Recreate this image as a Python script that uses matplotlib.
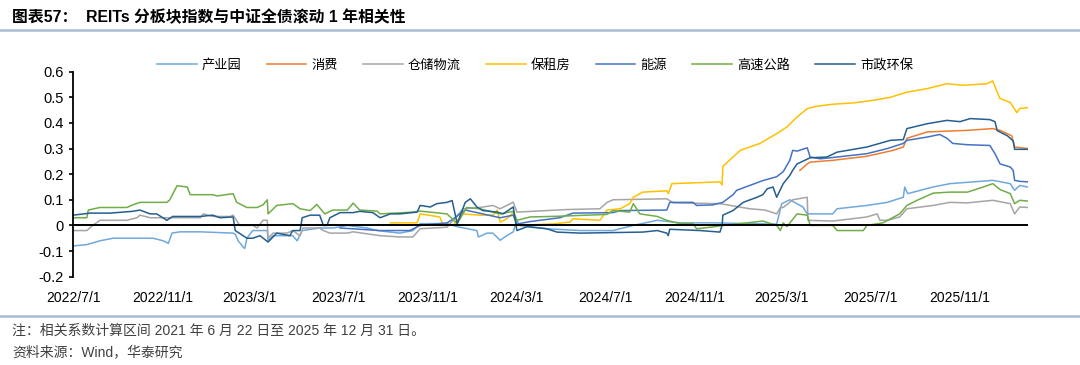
import pandas as pd
import matplotlib.pyplot as plt
from matplotlib.lines import Line2D

plt.rcParams['font.family'] = ['Liberation Sans', 'Noto Sans CJK SC']

# --- data ---
cyy_dates = ["2022-07-01", "2022-07-20", "2022-08-07", "2022-08-25", "2022-10-19", "2022-11-02", "2022-11-09",
             "2022-11-14", "2022-11-25", "2022-12-23", "2023-02-06", "2023-02-09", "2023-02-13", "2023-02-20",
             "2023-02-22", "2023-02-25", "2023-03-05", "2023-03-25", "2023-03-26", "2023-04-02", "2023-04-29",
             "2023-05-05", "2023-05-12", "2023-06-05", "2023-06-23", "2023-07-13", "2023-08-09", "2023-08-23",
             "2023-09-23", "2023-10-11", "2023-10-21", "2023-11-27", "2023-12-11", "2024-01-07", "2024-01-09",
             "2024-01-21", "2024-01-29", "2024-02-08", "2024-02-17", "2024-02-26", "2024-03-02", "2024-03-06",
             "2024-04-12", "2024-05-28", "2024-07-12", "2024-08-09", "2024-09-11", "2024-10-12", "2024-11-26",
             "2025-02-22", "2025-03-01", "2025-03-12", "2025-03-30", "2025-04-05", "2025-05-10", "2025-05-16",
             "2025-06-26", "2025-07-24", "2025-08-15", "2025-08-17", "2025-08-21", "2025-09-25", "2025-10-18",
             "2025-12-03", "2025-12-16", "2026-01-09", "2026-01-15", "2026-01-22", "2026-02-02"]
cyy_vals = [-0.08, -0.075, -0.06, -0.05, -0.05, -0.06, -0.07,
            -0.03, -0.025, -0.025, -0.03, -0.035, -0.06, -0.085,
            -0.09, -0.05, -0.02, -0.02, -0.06, -0.04, -0.04,
            -0.06, -0.02, -0.01, -0.01, 0.0, -0.01, -0.02,
            -0.03, -0.02, 0.007, 0.007, -0.005, -0.02, -0.045,
            -0.03, -0.03, -0.058, -0.04, -0.025, 0.02, 0.0,
            -0.013, -0.02, -0.02, 0.0, 0.02, 0.01, 0.01,
            0.005, 0.085, 0.1, 0.072, 0.045, 0.045, 0.065,
            0.078, 0.09, 0.11, 0.15, 0.124, 0.15, 0.163,
            0.173, 0.176, 0.163, 0.137, 0.156, 0.15]

xf_dates = ["2025-03-26", "2025-04-05", "2025-04-09", "2025-05-10", "2025-06-26", "2025-08-01", "2025-08-15",
            "2025-08-20", "2025-09-17", "2025-11-11", "2025-12-16", "2025-12-26", "2026-01-11", "2026-01-15",
            "2026-02-02"]
xf_vals = [0.215, 0.24, 0.247, 0.254, 0.27, 0.293, 0.306,
           0.34, 0.365, 0.371, 0.378, 0.371, 0.35, 0.306,
           0.3]

cc_dates = ["2022-07-01", "2022-07-20", "2022-07-28", "2022-08-07", "2022-09-13", "2022-09-27", "2022-10-01",
            "2022-10-15", "2022-12-23", "2022-12-27", "2023-01-09", "2023-02-02", "2023-02-06", "2023-02-15",
            "2023-03-05", "2023-03-11", "2023-03-19", "2023-03-25", "2023-03-26", "2023-04-02", "2023-04-21",
            "2023-04-29", "2023-05-09", "2023-05-13", "2023-06-05", "2023-06-10", "2023-06-19", "2023-07-13",
            "2023-07-21", "2023-08-27", "2023-09-23", "2023-10-11", "2023-10-21", "2023-11-27", "2023-12-19",
            "2024-01-11", "2024-01-29", "2024-02-08", "2024-02-22", "2024-02-26", "2024-03-02", "2024-04-12",
            "2024-05-10", "2024-06-24", "2024-07-04", "2024-07-12", "2024-09-24", "2024-10-03", "2024-12-06",
            "2025-01-16", "2025-02-06", "2025-02-22", "2025-02-27", "2025-03-03", "2025-03-12", "2025-03-16",
            "2025-04-05", "2025-04-06", "2025-05-10", "2025-06-26", "2025-07-10", "2025-07-14", "2025-07-24",
            "2025-08-10", "2025-08-20", "2025-09-25", "2025-10-18", "2025-11-11", "2025-12-16", "2026-01-09",
            "2026-01-15", "2026-01-22", "2026-02-02"]
cc_vals = [-0.02, -0.02, 0.0, 0.02, 0.02, 0.03, 0.04,
           0.03, 0.03, 0.045, 0.035, 0.035, 0.04, 0.0,
           0.0, -0.01, 0.02, 0.02, -0.05, -0.03, -0.03,
           -0.02, -0.04, -0.01, -0.01, -0.02, -0.03, -0.03,
           -0.025, -0.04, -0.045, -0.045, -0.013, -0.007, 0.065,
           0.07, 0.078, 0.065, 0.085, 0.091, 0.052, 0.058,
           0.062, 0.065, 0.09, 0.1, 0.104, 0.088, 0.085,
           0.065, 0.06, 0.045, 0.07, 0.07, 0.09, 0.1,
           0.11, 0.02, 0.017, 0.033, 0.045, 0.02, 0.02,
           0.033, 0.065, 0.078, 0.09, 0.088, 0.098, 0.085,
           0.045, 0.072, 0.07]

bzf_dates = ["2023-09-10", "2023-10-17", "2023-10-21", "2023-11-17", "2023-11-21", "2023-12-05", "2023-12-19",
             "2024-01-11", "2024-01-29", "2024-02-04", "2024-02-08", "2024-02-17", "2024-02-26", "2024-03-02",
             "2024-04-21", "2024-05-14", "2024-05-18", "2024-06-24", "2024-07-04", "2024-07-22", "2024-08-04",
             "2024-08-09", "2024-08-22", "2024-09-24", "2024-09-26", "2024-10-01", "2024-12-06", "2024-12-09",
             "2024-12-10", "2024-12-24", "2025-01-03", "2025-01-30", "2025-02-22", "2025-03-08", "2025-03-22",
             "2025-04-05", "2025-04-18", "2025-05-10", "2025-06-07", "2025-07-04", "2025-07-28", "2025-08-20",
             "2025-09-17", "2025-10-14", "2025-11-05", "2025-12-08", "2025-12-16", "2025-12-22", "2025-12-26",
             "2026-01-09", "2026-01-13", "2026-01-18", "2026-01-22", "2026-02-02"]
bzf_vals = [0.01, 0.01, 0.045, 0.033, 0.006, 0.0, 0.045,
            0.04, 0.04, 0.06, 0.013, 0.026, 0.05, 0.0,
            0.006, 0.013, 0.026, 0.02, 0.06, 0.065, 0.085,
            0.11, 0.13, 0.135, 0.124, 0.163, 0.17, 0.158,
            0.23, 0.267, 0.293, 0.32, 0.358, 0.384, 0.423,
            0.456, 0.465, 0.473, 0.478, 0.488, 0.5, 0.52,
            0.534, 0.553, 0.547, 0.553, 0.564, 0.52, 0.495,
            0.48, 0.462, 0.44, 0.456, 0.46]

ny_dates = ["2023-07-03", "2023-08-27", "2023-10-07", "2023-10-21", "2023-11-27", "2023-12-08", "2023-12-22",
            "2024-01-07", "2024-02-08", "2024-02-26", "2024-03-02", "2024-03-20", "2024-04-30", "2024-05-18",
            "2024-07-12", "2024-07-22", "2024-09-24", "2024-09-28", "2024-10-30", "2024-11-04", "2024-11-26",
            "2024-12-10", "2024-12-24", "2024-12-29", "2025-01-16", "2025-02-03", "2025-02-22", "2025-03-03",
            "2025-03-12", "2025-03-16", "2025-03-22", "2025-04-05", "2025-04-09", "2025-04-23", "2025-05-10",
            "2025-06-26", "2025-07-24", "2025-08-15", "2025-08-20", "2025-09-17", "2025-10-04", "2025-10-14",
            "2025-10-22", "2025-11-11", "2025-12-12", "2025-12-19", "2025-12-26", "2026-01-09", "2026-01-13",
            "2026-01-15", "2026-01-22", "2026-02-02"]
ny_vals = [-0.01, -0.02, -0.02, 0.0, 0.01, 0.03, 0.06,
           0.05, 0.03, 0.04, 0.005, 0.015, 0.03, 0.048,
           0.05, 0.058, 0.06, 0.09, 0.09, 0.078, 0.08,
           0.09, 0.12, 0.137, 0.156, 0.175, 0.19, 0.21,
           0.254, 0.293, 0.29, 0.303, 0.267, 0.26, 0.265,
           0.28, 0.3, 0.32, 0.332, 0.345, 0.355, 0.34,
           0.32, 0.315, 0.312, 0.28, 0.24, 0.228, 0.215,
           0.176, 0.172, 0.17]

gs_dates = ["2022-07-01", "2022-07-20", "2022-07-22", "2022-08-07", "2022-09-13", "2022-09-21", "2022-10-01",
            "2022-11-07", "2022-11-11", "2022-11-21", "2022-12-05", "2022-12-09", "2023-01-09", "2023-01-15",
            "2023-02-06", "2023-02-11", "2023-02-25", "2023-03-11", "2023-03-19", "2023-03-25", "2023-03-26",
            "2023-04-07", "2023-04-29", "2023-05-09", "2023-05-23", "2023-06-01", "2023-06-12", "2023-06-23",
            "2023-07-13", "2023-07-21", "2023-07-30", "2023-08-23", "2023-08-27", "2023-10-11", "2023-10-21",
            "2023-11-27", "2023-12-11", "2023-12-24", "2024-01-11", "2024-02-08", "2024-02-26", "2024-03-02",
            "2024-03-20", "2024-04-30", "2024-07-04", "2024-07-12", "2024-08-04", "2024-08-09", "2024-08-18",
            "2024-09-11", "2024-09-24", "2024-10-12", "2024-10-30", "2024-11-04", "2024-11-26", "2024-12-10",
            "2025-01-12", "2025-02-03", "2025-02-22", "2025-02-27", "2025-03-03", "2025-03-08", "2025-03-22",
            "2025-04-05", "2025-04-09", "2025-05-10", "2025-05-16", "2025-06-21", "2025-06-26", "2025-07-18",
            "2025-08-10", "2025-08-20", "2025-09-03", "2025-09-25", "2025-10-18", "2025-11-11", "2025-12-03",
            "2025-12-16", "2025-12-26", "2026-01-09", "2026-01-15", "2026-01-22", "2026-02-02"]
gs_vals = [0.03, 0.03, 0.06, 0.07, 0.07, 0.08, 0.09,
           0.09, 0.1, 0.155, 0.15, 0.12, 0.12, 0.115,
           0.124, 0.09, 0.07, 0.07, 0.08, 0.1, 0.045,
           0.078, 0.085, 0.065, 0.058, 0.082, 0.045, 0.06,
           0.06, 0.087, 0.06, 0.056, 0.045, 0.052, 0.056,
           0.045, 0.007, 0.07, 0.065, 0.045, 0.055, 0.02,
           0.033, 0.036, 0.043, 0.058, 0.052, 0.085, 0.045,
           0.035, 0.02, 0.007, 0.007, -0.013, -0.006, 0.0,
           0.01, 0.017, 0.0, -0.02, 0.01, -0.005, 0.045,
           0.04, 0.0, 0.0, -0.02, -0.02, 0.0, 0.01,
           0.045, 0.078, 0.098, 0.126, 0.13, 0.13, 0.15,
           0.163, 0.14, 0.124, 0.085, 0.098, 0.095]

sz_dates = ["2022-07-01", "2022-07-24", "2022-08-21", "2022-09-21", "2022-10-01", "2022-10-15", "2022-10-24",
            "2022-11-07", "2022-11-15", "2022-12-23", "2023-01-09", "2023-01-19", "2023-02-06", "2023-02-09",
            "2023-02-25", "2023-03-05", "2023-03-15", "2023-03-26", "2023-04-07", "2023-04-25", "2023-04-29",
            "2023-05-09", "2023-05-12", "2023-05-23", "2023-06-05", "2023-06-10", "2023-06-15", "2023-06-19",
            "2023-07-03", "2023-07-21", "2023-07-30", "2023-08-17", "2023-08-27", "2023-09-10", "2023-09-23",
            "2023-10-17", "2023-10-21", "2023-11-04", "2023-11-13", "2023-11-27", "2023-12-04", "2023-12-11",
            "2023-12-22", "2023-12-29", "2024-01-07", "2024-01-15", "2024-02-04", "2024-02-12", "2024-02-26",
            "2024-03-02", "2024-03-16", "2024-04-12", "2024-04-26", "2024-05-28", "2024-08-22", "2024-09-11",
            "2024-09-24", "2024-09-26", "2024-09-28", "2024-11-09", "2024-12-06", "2024-12-09", "2024-12-10",
            "2024-12-24", "2025-01-07", "2025-01-26", "2025-02-03", "2025-02-09", "2025-02-17", "2025-02-22",
            "2025-03-03", "2025-03-12", "2025-03-16", "2025-03-22", "2025-04-09", "2025-05-02", "2025-05-16",
            "2025-06-26", "2025-07-28", "2025-08-15", "2025-08-20", "2025-09-17", "2025-10-14", "2025-11-01",
            "2025-11-15", "2025-12-12", "2025-12-19", "2025-12-22", "2026-01-05", "2026-01-13", "2026-01-15",
            "2026-02-02"]
sz_vals = [0.04, 0.048, 0.048, 0.055, 0.06, 0.045, 0.045,
           0.02, 0.035, 0.035, 0.04, 0.03, 0.033, -0.02,
           -0.05, -0.05, -0.04, -0.065, -0.03, -0.04, -0.02,
           -0.02, 0.03, 0.04, 0.04, 0.0, 0.0, 0.03,
           0.05, 0.05, 0.055, 0.05, 0.03, 0.045, 0.045,
           0.052, 0.078, 0.072, 0.085, 0.09, 0.097, 0.007,
           0.09, 0.104, 0.072, 0.058, 0.052, 0.045, 0.072,
           -0.02, -0.005, -0.013, -0.026, -0.03, -0.026, -0.02,
           -0.03, -0.04, -0.015, -0.02, -0.026, 0.0, 0.04,
           0.058, 0.09, 0.11, 0.12, 0.143, 0.15, 0.11,
           0.163, 0.195, 0.215, 0.24, 0.264, 0.267, 0.286,
           0.306, 0.332, 0.335, 0.378, 0.397, 0.41, 0.405,
           0.417, 0.413, 0.405, 0.37, 0.35, 0.33, 0.297,
           0.297]

series_names = ['产业园', '消费', '仓储物流', '保租房', '能源', '高速公路', '市政环保']
series_dates = [cyy_dates, xf_dates, cc_dates, bzf_dates, ny_dates, gs_dates, sz_dates]
series_vals = [cyy_vals, xf_vals, cc_vals, bzf_vals, ny_vals, gs_vals, sz_vals]
colors = ['#6FA8DC', '#ED7D31', '#A5A5A5', '#FFC000', '#4472C4', '#70AD47', '#255E91']

tick_dates = ["2022-07-01", "2022-11-01", "2023-03-01", "2023-07-01", "2023-11-01", "2024-03-01",
              "2024-07-01", "2024-11-01", "2025-03-01", "2025-07-01", "2025-11-01"]
tick_labels = ['2022/7/1', '2022/11/1', '2023/3/1', '2023/7/1', '2023/11/1', '2024/3/1',
               '2024/7/1', '2024/11/1', '2025/3/1', '2025/7/1', '2025/11/1']

title = '图表57：  REITs 分板块指数与中证全债滚动 1 年相关性'
note = '注：相关系数计算区间 2021 年 6 月 22 日至 2025 年 12 月 31 日。'
source = '资料来源：Wind，华泰研究'

# --- figure ---
fig = plt.figure(figsize=(10.8, 3.65), dpi=100)
ax = fig.add_axes([0.0676, 0.242, 0.884, 0.5616])

for d, v, c, n in zip(series_dates, series_vals, colors, series_names):
    ax.plot(pd.to_datetime(d), v, color=c, lw=1.1, label=n)

ax.axhline(0, color='black', lw=1.4, zorder=5)

ax.set_ylim(-0.2, 0.6)
ax.set_yticks([-0.2, -0.1, 0, 0.1, 0.2, 0.3, 0.4, 0.5, 0.6])
ax.set_yticklabels(['-0.2', '-0.1', '0', '0.1', '0.2', '0.3', '0.4', '0.5', '0.6'])
ax.set_xlim(pd.Timestamp('2022-07-01'), pd.Timestamp('2026-02-02'))
ax.set_xticks(pd.to_datetime(tick_dates))
ax.set_xticklabels(tick_labels)

for s in ['top', 'right', 'bottom']:
    ax.spines[s].set_visible(False)
ax.spines['left'].set_linewidth(1.3)
ax.tick_params(axis='y', direction='out', length=3, width=1.2, labelsize=10.5, pad=4)
ax.tick_params(axis='x', length=0, labelsize=10, pad=10)

handles = [Line2D([], [], color=c, lw=1.1) for c in colors]
ax.legend(handles, series_names, loc='center', bbox_to_anchor=(0.484, 1.03), ncol=7, frameon=False,
          prop={'family': 'Noto Sans CJK SC', 'size': 9.5}, handlelength=3.0, handletextpad=0.4,
          columnspacing=1.9)

fig.text(0.011, 0.953, title, fontsize=11.4, fontweight='bold', va='center', ha='left')
fig.add_artist(Line2D([0, 1], [0.917, 0.917], transform=fig.transFigure, color='#A9BCD5', lw=1.8))
fig.add_artist(Line2D([0, 1], [0.134, 0.134], transform=fig.transFigure, color='#A9BCD5', lw=1.8))
fig.text(0.011, 0.093, note, fontsize=10, color='#404040', va='center', ha='left')
fig.text(0.011, 0.036, source, fontsize=10, color='#404040', va='center', ha='left')

fig.savefig('out.png', dpi=100)
